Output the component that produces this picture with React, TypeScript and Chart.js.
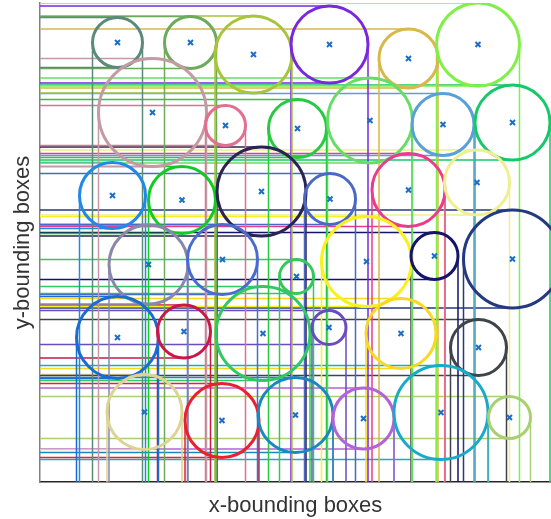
import { useEffect, useRef } from "react";
import { Chart, registerables } from "chart.js";

Chart.register(...registerables);

// Circle centres and radii (data units), one entry per circle
const centerX = [1.55, 3.01, 4.27, 5.79, 7.37, 8.76, 2.25, 3.71, 5.15, 6.6, 8.06, 9.45, 1.45, 2.84, 4.43, 5.8, 7.37, 8.74, 2.17, 3.65, 5.13, 6.53, 7.89, 9.45, 1.55, 2.88, 4.46, 5.78, 7.22, 8.77, 2.09, 3.64, 5.11, 6.47, 8.02, 9.39];
const centerY = [8.79, 8.79, 8.55, 8.75, 8.47, 8.75, 7.39, 7.13, 7.07, 7.23, 7.15, 7.19, 5.73, 5.64, 5.81, 5.66, 5.84, 5.99, 4.35, 4.45, 4.11, 4.41, 4.52, 4.46, 2.89, 3.01, 2.97, 3.09, 2.97, 2.69, 1.4, 1.23, 1.34, 1.27, 1.39, 1.29];
const radii = [0.5, 0.52, 0.77, 0.77, 0.59, 0.83, 1.08, 0.4, 0.58, 0.85, 0.62, 0.75, 0.66, 0.67, 0.89, 0.51, 0.73, 0.65, 0.79, 0.7, 0.34, 0.9, 0.47, 0.98, 0.82, 0.53, 0.94, 0.34, 0.7, 0.56, 0.75, 0.74, 0.75, 0.61, 0.94, 0.42];
const circleColors = [
  "#5b8a7b", "#6eaa5c", "#a8c43c", "#7a28e0", "#d8b84a", "#80f048",
  "#c49aa6", "#e07090", "#28c840", "#66dd66", "#5aa0d8", "#18c868",
  "#2288e8", "#10cc22", "#2c2450", "#4a68c8", "#e83c8c", "#eef090",
  "#8888aa", "#4a6cd0", "#34c85a", "#f8f020", "#14146a", "#243a80",
  "#1a6cd0", "#c81848", "#30c864", "#6a4cc0", "#f8d820", "#3e4448",
  "#dcd494", "#e82030", "#1a88c0", "#b462d8", "#18aac8", "#a8d070",
];

const xMin = 0;
const xMax = 10.22;
const yMin = 0;
const yMax = 9.58;
const xTitle = "x-bounding boxes";
const yTitle = "y-bounding boxes";
const markerColor = "#1a6ec8";

export default function App() {
  const ref = useRef<HTMLCanvasElement | null>(null);

  useEffect(() => {
    if (!ref.current) return;

    const circles = centerX.map((x, i) => ({ x, y: centerY[i], r: radii[i] }));

    const lineSets = centerX.map((cx, i) => {
      const cy = centerY[i];
      const r = radii[i];
      return {
        data: [
          { x: xMin, y: cy + r },
          { x: cx, y: cy + r },
          { x: cx, y: null },
          { x: xMin, y: cy - r },
          { x: cx, y: cy - r },
          { x: cx, y: null },
          { x: cx - r, y: cy },
          { x: cx - r, y: yMin },
          { x: cx, y: null },
          { x: cx + r, y: cy },
          { x: cx + r, y: yMin },
        ],
        showLine: true,
        spanGaps: false,
        borderColor: circleColors[i],
        borderWidth: 1.5,
        pointRadius: 0,
        pointHoverRadius: 0,
        fill: false,
        tension: 0,
        order: 2,
      };
    });

    const pixelRadius = (ctx: any) => {
      const s = ctx.chart.scales?.x;
      const v = ctx.raw;
      if (!s || !v || typeof v.r !== "number") return 0;
      return Math.abs(s.getPixelForValue(v.x + v.r) - s.getPixelForValue(v.x));
    };

    const chart = new Chart(ref.current, {
      type: "scatter",
      data: {
        datasets: [
          {
            data: circles.map((c) => ({ x: c.x, y: c.y })),
            pointStyle: "crossRot",
            pointRadius: 3.5,
            pointBorderWidth: 2,
            pointBorderColor: markerColor,
            pointBackgroundColor: markerColor,
            order: 0,
          } as any,
          {
            data: circles,
            pointStyle: "circle",
            pointRadius: pixelRadius,
            pointHoverRadius: pixelRadius,
            pointBorderWidth: 3,
            pointBorderColor: circleColors,
            pointBackgroundColor: "rgba(0,0,0,0)",
            order: 1,
          } as any,
          ...(lineSets as any[]),
        ],
      },
      options: {
        animation: false,
        responsive: false,
        events: [],
        layout: { autoPadding: false, padding: { top: 3, right: 0, bottom: 0, left: 0 } },
        plugins: {
          legend: { display: false },
          tooltip: { enabled: false },
        },
        scales: {
          x: {
            type: "linear",
            min: xMin,
            max: xMax,
            ticks: { display: false },
            grid: { display: false },
            border: { display: true, color: "#262626", width: 1.5 },
            title: {
              display: true,
              text: xTitle,
              color: "#333333",
              font: { family: "'Liberation Sans', Arial, sans-serif", size: 22 },
              padding: { top: 0, bottom: 0 },
            },
            afterFit: (scale: any) => {
              scale.height = 37;
            },
          },
          y: {
            type: "linear",
            min: yMin,
            max: yMax,
            ticks: { display: false },
            grid: { display: false },
            border: { display: true, color: "#808080", width: 1.5 },
            title: {
              display: true,
              text: yTitle,
              color: "#333333",
              font: { family: "'Liberation Sans', Arial, sans-serif", size: 22 },
              padding: { top: 10, bottom: 0 },
            },
            afterFit: (scale: any) => {
              scale.width = 40;
            },
          },
        },
      },
    } as any);

    return () => chart.destroy();
  }, []);

  return (
    <div style={{ position: "fixed", left: 0, top: 0, width: 551, height: 519, background: "#fff" }}>
      <canvas ref={ref} width={551} height={519} style={{ display: "block" }} />
    </div>
  );
}
